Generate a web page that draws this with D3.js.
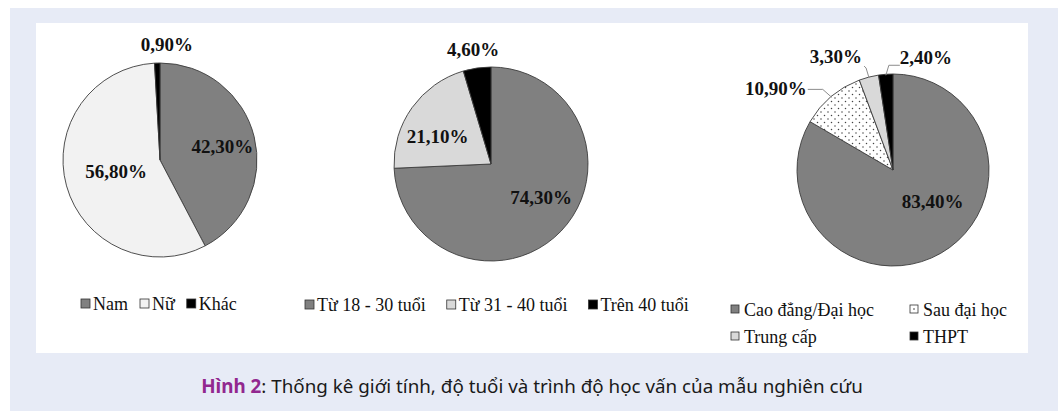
<!DOCTYPE html>
<html>
<head>
<meta charset="utf-8">
<script src="https://cdn.jsdelivr.net/npm/d3@7"></script>
<style>
  body { margin: 0; background: #ffffff; }
</style>
</head>
<body>
<div id="container"></div>
<script>
let w = 1058;
let h = 411;

// data
let genderCats = ["Nam", "Nữ", "Khác"];
let genderVals = [42.3, 56.8, 0.9];
let ageCats = ["Từ 18 - 30 tuổi", "Từ 31 - 40 tuổi", "Trên 40 tuổi"];
let ageVals = [74.3, 21.1, 4.6];
let eduCats = ["Cao đẳng/Đại học", "Sau đại học", "Trung cấp", "THPT"];
let eduVals = [83.4, 10.9, 3.3, 2.4];
let captionBold = "Hình 2";
let captionRest = ": Thống kê giới tính, độ tuổi và trình độ học vấn của mẫu nghiên cứu";

function fmt(v) {
  return v.toFixed(2).replace(".", ",") + "%";
}

let viz = d3.select("#container")
  .append("svg")
  .attr("width", w)
  .attr("height", h)
  .style("display", "block");

// dotted pattern for "Sau đại học"
let defs = viz.append("defs");
let pat = defs.append("pattern")
  .attr("id", "dots")
  .attr("patternUnits", "userSpaceOnUse")
  .attr("width", 7)
  .attr("height", 7);
pat.append("rect").attr("width", 7).attr("height", 7).attr("fill", "white");
pat.append("circle").attr("cx", 1.5).attr("cy", 1.5).attr("r", 0.75).attr("fill", "#444");
pat.append("circle").attr("cx", 5).attr("cy", 5).attr("r", 0.75).attr("fill", "#444");

// backgrounds
viz.append("rect")
  .attr("x", 10).attr("y", 8)
  .attr("width", w - 10).attr("height", h - 8)
  .attr("fill", "#e7ebf6");
viz.append("rect")
  .attr("x", 36).attr("y", 23)
  .attr("width", 992).attr("height", 330)
  .attr("fill", "white");

let serif = "'Liberation Serif', 'Times New Roman', serif";

// layout of the three pies
let charts = [
  {
    cats: genderCats, vals: genderVals,
    colors: ["#808080", "#f2f2f2", "#000000"],
    cx: 160, cy: 160, r: 97,
    labelK: [0.64, 0.47, 1.12],
    nudge: [[2, 8], [0, 6], [10, 0]],
    leader: [false, false, false]
  },
  {
    cats: ageCats, vals: ageVals,
    colors: ["#808080", "#d9d9d9", "#000000"],
    cx: 491, cy: 164, r: 97,
    labelK: [0.6, 0.6, 1.13],
    nudge: [[8, 0], [-6, 13], [-2, 0]],
    leader: [false, false, false]
  },
  {
    cats: eduCats, vals: eduVals,
    colors: ["#808080", "url(#dots)", "#d9d9d9", "#000000"],
    cx: 893, cy: 170, r: 96,
    labelK: [0.58, 1.0, 1.0, 1.0],
    nudge: [[12, -10], [0, 0], [0, 0], [0, 0]],
    leader: [false, true, true, true]
  }
];

// leader-line geometry, relative to the slice edge point; text offset relative to line end
let leaderStyle = [
  null,
  { bend: [-9, -8], end: [-24, -8], anchor: "end", tdx: -1, tdy: 6 },
  { bend: [-3, -10], end: [-5, -12], anchor: "end", tdx: -2, tdy: -3 },
  { bend: [3, -10], end: [14, -10], anchor: "start", tdx: 0, tdy: -1 }
];

let pie = d3.pie().sort(null).value(d => d);

charts.forEach(function(c) {
  let g = viz.append("g").attr("transform", "translate(" + c.cx + "," + c.cy + ")");
  let arcs = pie(c.vals);
  let arc = d3.arc().innerRadius(0).outerRadius(c.r);

  g.selectAll("path")
    .data(arcs)
    .enter()
    .append("path")
    .attr("d", arc)
    .attr("fill", (d, i) => c.colors[i])
    .attr("stroke", "#3c3c3c")
    .attr("stroke-width", 0.9);

  arcs.forEach(function(d, i) {
    let mid = (d.startAngle + d.endAngle) / 2;
    let x, y, anchor = "middle";
    if (c.leader[i]) {
      let ls = leaderStyle[i];
      let ex = Math.sin(mid) * (c.r - 1);
      let ey = -Math.cos(mid) * (c.r - 1);
      let bx = ex + ls.bend[0], by = ey + ls.bend[1];
      let tx = ex + ls.end[0], ty = ey + ls.end[1];
      g.append("polyline")
        .attr("points", [[ex, ey], [bx, by], [tx, ty]].map(p => p.join(",")).join(" "))
        .attr("fill", "none")
        .attr("stroke", "#8c8c8c")
        .attr("stroke-width", 1);
      anchor = ls.anchor;
      x = tx + ls.tdx;
      y = ty + ls.tdy;
    } else {
      let k = c.labelK[i] * c.r;
      x = Math.sin(mid) * k + c.nudge[i][0];
      y = -Math.cos(mid) * k + c.nudge[i][1];
    }
    g.append("text")
      .text(fmt(c.vals[i]))
      .attr("x", x)
      .attr("y", y)
      .attr("text-anchor", anchor)
      .attr("font-family", serif)
      .attr("font-weight", "bold")
      .attr("font-size", "19px")
      .attr("fill", "#111");
  });
});

// legends
function legendRow(cats, colors, x0, y, gap) {
  let x = x0;
  cats.forEach(function(name, i) {
    viz.append("rect")
      .attr("x", x).attr("y", y - 11)
      .attr("width", 9).attr("height", 9)
      .attr("fill", colors[i])
      .attr("stroke", "#333")
      .attr("stroke-width", 0.8);
    let t = viz.append("text")
      .text(name)
      .attr("x", x + 12)
      .attr("y", y)
      .attr("font-family", serif)
      .attr("font-size", "18px")
      .attr("fill", "#111");
    x = x + 12 + t.node().getComputedTextLength() + gap;
  });
}

legendRow(genderCats, charts[0].colors, 81, 310, 12);
legendRow(ageCats, charts[1].colors, 305, 311, 21);

let eduLegendCols = [731, 910];
let eduLegendRows = [316, 343];
eduCats.forEach(function(name, i) {
  let x = eduLegendCols[i % 2];
  let y = eduLegendRows[Math.floor(i / 2)];
  viz.append("rect")
    .attr("x", x).attr("y", y - 11)
    .attr("width", 8).attr("height", 8)
    .attr("fill", charts[2].colors[i] === "url(#dots)" ? "white" : charts[2].colors[i])
    .attr("stroke", "#333")
    .attr("stroke-width", 0.8);
  if (i === 1) {
    viz.append("circle").attr("cx", x + 4).attr("cy", y - 7).attr("r", 0.8).attr("fill", "#333");
  }
  viz.append("text")
    .text(name)
    .attr("x", x + 13)
    .attr("y", y)
    .attr("font-family", serif)
    .attr("font-size", "18px")
    .attr("fill", "#111");
});

// caption
let cap = viz.append("text")
  .attr("x", 532)
  .attr("y", 393)
  .attr("text-anchor", "middle")
  .attr("font-family", "'Noto Sans', 'Open Sans', sans-serif")
  .attr("font-size", "16px")
  .attr("fill", "#1a1a1a");
cap.append("tspan").text(captionBold).attr("font-weight", "bold").attr("fill", "#92278f");
cap.append("tspan").text(captionRest);
let capW = cap.node().getComputedTextLength();
cap.attr("font-size", (16 * 662 / capW) + "px");
</script>
</body>
</html>
